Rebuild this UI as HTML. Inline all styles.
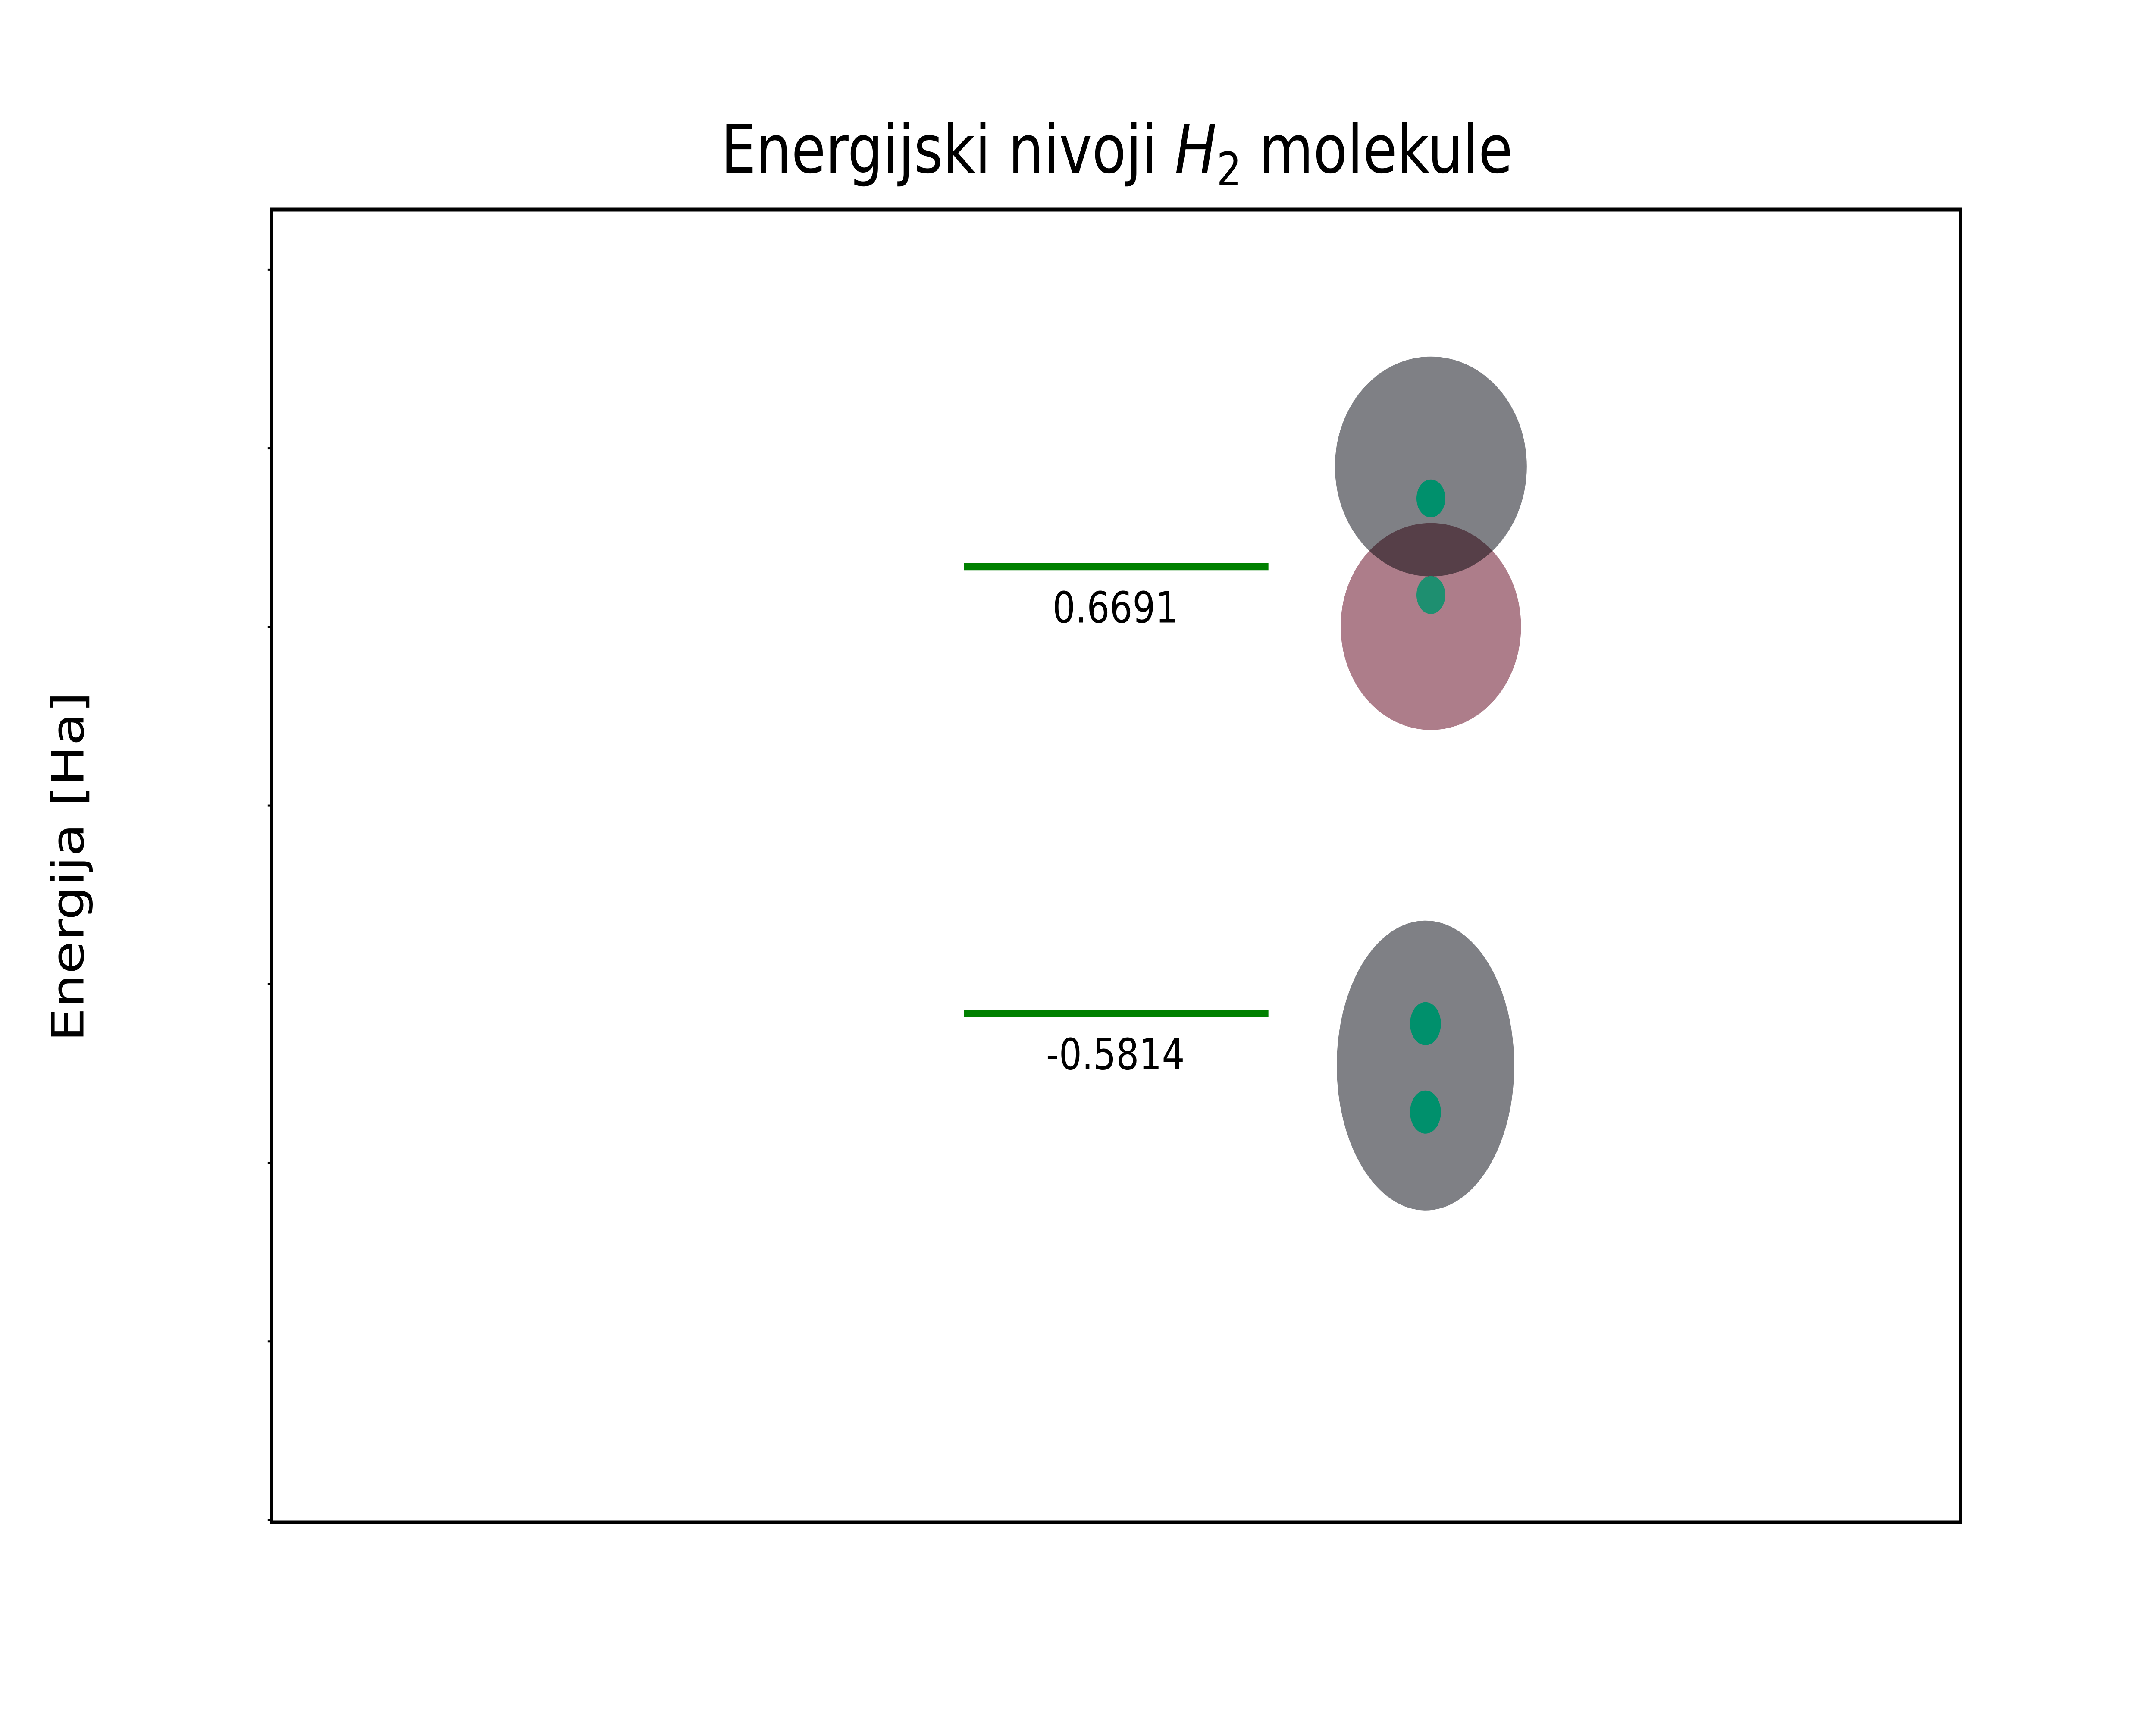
<!DOCTYPE html>
<html><head><meta charset="utf-8">
<style>
html,body{margin:0;padding:0;background:#fff;width:100%;height:100%;overflow:hidden;}
svg{display:block;position:absolute;left:0;top:0;width:100vw;height:100vh;}
text{font-family:"DejaVu Sans","Liberation Sans",sans-serif;}
</style></head>
<body>
<svg id="chart" viewBox="0 0 6000 4000" preserveAspectRatio="none" xmlns="http://www.w3.org/2000/svg">
  <rect x="0" y="0" width="6000" height="4000" fill="#fff"/>
  <text x="3108" y="400" font-size="155" text-anchor="middle" fill="#000">Energijski nivoji <tspan font-style="italic">H</tspan><tspan font-size="108" dy="30">2</tspan><tspan dy="-30"> molekule</tspan></text>
  <text transform="translate(232,2010) rotate(-90)" font-size="124" text-anchor="middle" fill="#000">Energija [Ha]</text>
  <g id="plot"></g>
  <rect x="756" y="486" width="4699" height="3044" fill="none" stroke="#000" stroke-width="9"/>
</svg>
<script>
const levelLabels = ["0.6691", "-0.5814"];
const levelEnergies = [0.6691, -0.5814];
const yDomain = [-2.006, 1.667];
const yTicks = [-2.0, -1.5, -1.0, -0.5, 0.0, 0.5, 1.0, 1.5];

const plotTop = 487, plotBottom = 3530;
function yScale(e){ return plotBottom - (e - yDomain[0]) / (yDomain[1] - yDomain[0]) * (plotBottom - plotTop); }

const NS = "http://www.w3.org/2000/svg";
const plot = document.getElementById('plot');
function mk(tag, attrs){ const el = document.createElementNS(NS, tag); for (const k in attrs) el.setAttribute(k, attrs[k]); return el; }

yTicks.forEach(function(t){
  const y = yScale(t);
  const tk = mk('line', {x1: 745, x2: 756, y1: y, y2: y, stroke: '#000', 'stroke-width': 5});
  
  
  plot.appendChild(tk);
});

levelEnergies.forEach(function(e, i){
  const y = yScale(e);
  const ln = mk('line', {x1: 2683, x2: 3530, y1: y, y2: y, stroke: '#008000', 'stroke-width': 17});
  
  
  plot.appendChild(ln);
  const tx = mk('text', {x: 3104, y: y + 130, 'font-size': 100, 'text-anchor': 'middle', fill: '#000'});
  tx.textContent = levelLabels[i];
  
  
  plot.appendChild(tx);
});

const yHi = yScale(levelEnergies[0]);
const yLo = yScale(levelEnergies[1]);

const g = mk('g', {});


plot.appendChild(g);

const pink = mk('ellipse', {cx: 3982, cy: yHi + 139, rx: 251, ry: 240, fill: '#ad7d8a'});


g.appendChild(pink);
const gray = mk('ellipse', {cx: 3982, cy: yHi - 232, rx: 267, ry: 255, fill: '#7f8085', style: 'mix-blend-mode:multiply'});


g.appendChild(gray);
const d1 = mk('ellipse', {cx: 3982, cy: yHi - 158, rx: 40, ry: 44, fill: '#00906c'});


g.appendChild(d1);
const d2 = mk('ellipse', {cx: 3982, cy: yHi + 66, rx: 40, ry: 44, fill: '#1e8f70'});


g.appendChild(d2);

const bond = mk('ellipse', {cx: 3967, cy: yLo + 121, rx: 247, ry: 336, fill: '#7f8085'});


g.appendChild(bond);
const d3 = mk('ellipse', {cx: 3967, cy: yLo + 24, rx: 43, ry: 50, fill: '#00906c'});


g.appendChild(d3);
const d4 = mk('ellipse', {cx: 3967, cy: yLo + 229, rx: 43, ry: 50, fill: '#00906c'});


g.appendChild(d4);
</script>
</body></html>
